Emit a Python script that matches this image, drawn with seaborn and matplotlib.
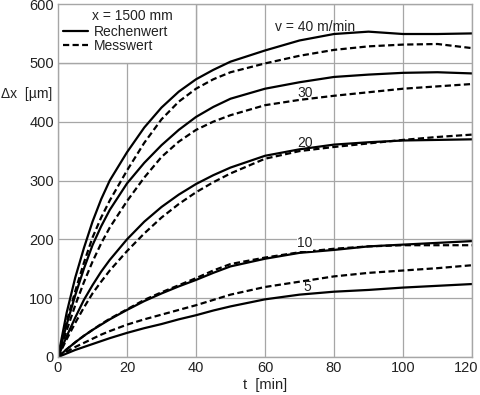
import numpy as np
import pandas as pd
import matplotlib
matplotlib.use("Agg")
import matplotlib.pyplot as plt
import matplotlib.transforms as mtransforms
from matplotlib.patches import Rectangle
import seaborn as sns
from matplotlib.lines import Line2D

# ---- data ----
t = [0, 2.5, 5, 7.5, 10, 12.5, 15, 20, 25, 30, 35, 40, 45, 50, 60, 70, 80, 90, 100, 110, 120]

calc_40 = [0, 75, 135, 185, 230, 268, 300, 348, 390, 424, 451, 472, 488, 502, 521, 538, 549, 553, 549, 549, 550]
meas_40 = [0, 60, 112, 160, 203, 237, 266, 317, 364, 404, 434, 456, 472, 484, 499, 512, 522, 528, 531, 532, 525]
calc_30 = [0, 55, 105, 150, 190, 222, 250, 295, 330, 360, 386, 408, 425, 439, 456, 467, 476, 480, 483, 484, 482]
meas_30 = [0, 45, 88, 127, 162, 193, 220, 265, 305, 340, 366, 386, 400, 411, 428, 437, 444, 450, 456, 460, 464]
calc_20 = [0, 35, 67, 97, 122, 145, 165, 200, 230, 255, 276, 294, 309, 322, 342, 353, 361, 365, 368, 369, 370]
meas_20 = [0, 30, 58, 84, 108, 128, 147, 180, 210, 237, 260, 280, 297, 312, 337, 350, 357, 363, 369, 374, 378]
calc_10 = [0, 13, 25, 36, 46, 55, 64, 80, 95, 108, 120, 131, 143, 154, 167, 177, 182, 188, 191, 194, 197]
meas_10 = [0, 13, 25, 36, 46, 56, 65, 81, 97, 110, 122, 134, 147, 158, 169, 178, 184, 188, 190, 190, 190]
calc_5 = [0, 6, 12, 17, 22, 27, 32, 41, 49, 56, 64, 71, 79, 86, 98, 106, 111, 114, 118, 121, 124]
meas_5 = [0, 9, 17, 24, 31, 38, 44, 55, 64, 72, 80, 88, 97, 106, 119, 128, 137, 143, 147, 151, 156]

speeds = [40, 30, 20, 10, 5]
speed_labels = ["v = 40 m/min", "30", "20", "10", "5"]
label_t = [74.5, 71.6, 71.6, 71.6, 72.2]
label_y = [561, 449, 363, 193, 119]

x_ticks = [0, 20, 40, 60, 80, 100, 120]
y_ticks = [0, 100, 200, 300, 400, 500, 600]

kind_calc = "Rechenwert"
kind_meas = "Messwert"
legend_title = "x = 1500 mm"
x_label = "t  [min]"
y_label = "\u0394x  [\u00b5m]"

calc = {40: calc_40, 30: calc_30, 20: calc_20, 10: calc_10, 5: calc_5}
meas = {40: meas_40, 30: meas_30, 20: meas_20, 10: meas_10, 5: meas_5}

rows = []
for v in speeds:
    for ti, c, m in zip(t, calc[v], meas[v]):
        rows.append({"t": ti, "dx": c, "kind": kind_calc, "curve": f"{v}c"})
        rows.append({"t": ti, "dx": m, "kind": kind_meas, "curve": f"{v}m"})
df = pd.DataFrame(rows)

# ---- plot ----
sns.set_theme(style="whitegrid")
plt.rcParams["font.family"] = ["Liberation Sans", "DejaVu Sans"]
plt.rcParams["font.size"] = 9.5

fig = plt.figure(figsize=(4.8, 3.95), dpi=100)
ax = fig.add_axes([58 / 480, 38 / 395, 414 / 480, 353 / 395])

grey = "#a6a6a6"
txt_col = "#222222"
dash_pat = (2.8, 1.5)
sns.lineplot(data=df, x="t", y="dx", units="curve", style="kind",
             estimator=None, color="black", linewidth=1.6, sort=False,
             dashes={kind_calc: "", kind_meas: dash_pat}, legend=False, ax=ax)

ax.set_xlim(0, 120)
ax.set_ylim(0, 600)
ax.set_xticks(x_ticks)
ax.set_yticks(y_ticks)
ax.grid(True, color=grey, linewidth=0.9)
for s in ax.spines.values():
    s.set_color(grey)
    s.set_linewidth(1.0)
ax.tick_params(length=0, labelsize=10.5, colors=txt_col, pad=3)
# keep the last x tick label inside the figure (as in the reference)
last = ax.get_xticklabels()[-1]
last.set_transform(last.get_transform() + mtransforms.ScaledTranslation(-6 / 100, 0, fig.dpi_scale_trans))
ax.set_xlabel(x_label, fontsize=10.5, color=txt_col, labelpad=2)
ax.set_ylabel("")
ax.text(-0.015, 0.745, y_label, transform=ax.transAxes, ha="right", va="center",
        fontsize=10, color=txt_col)

for lab, lt, ly in zip(speed_labels, label_t, label_y):
    ax.text(lt, ly, lab, ha="center", va="center", fontsize=10, color=txt_col,
            bbox=dict(facecolor="white", edgecolor="none", pad=0.5) if lab == "10" else None,
            zorder=5)

# legend box filling the top-left grid cell
ax.add_patch(Rectangle((0, 5 / 6), 1 / 3, 1 / 6, transform=ax.transAxes,
                       facecolor="white", edgecolor=grey, linewidth=1.0, zorder=3))
ax.text((92 - 58) / 414, (357 - 15) / 354, legend_title, transform=ax.transAxes,
        ha="left", va="center", fontsize=10, color=txt_col, zorder=6)
handles = [Line2D([], [], color="black", lw=1.6),
           Line2D([], [], color="black", lw=1.6, linestyle=(0, dash_pat))]
leg = ax.legend(handles, [kind_calc, kind_meas],
                loc="upper left", bbox_to_anchor=((63 - 58) / 414, (357 - 24) / 354),
                borderaxespad=0, frameon=False, fontsize=10,
                handlelength=1.8, handletextpad=0.4, labelspacing=0.0,
                borderpad=0)
leg.set_zorder(6)
for txt in leg.get_texts():
    txt.set_color(txt_col)

fig.savefig("out.png", dpi=100)
